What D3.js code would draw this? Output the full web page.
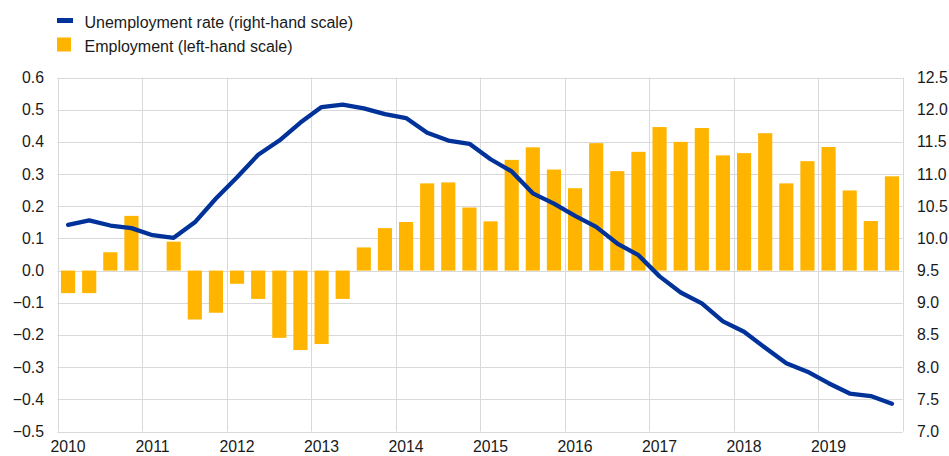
<!DOCTYPE html>
<html>
<head>
<meta charset="utf-8">
<script src="https://cdn.jsdelivr.net/npm/d3@7"></script>
<style>
  body { margin: 0; background: #fff; }
  svg text { font-family: "Liberation Sans", Arial, sans-serif; fill: #1a1a1a; }
</style>
</head>
<body>
<svg id="chart" width="949" height="456"></svg>
<script>
// quarters 2010Q1 - 2019Q4
const years = [2010, 2011, 2012, 2013, 2014, 2015, 2016, 2017, 2018, 2019];
const quarters = years.flatMap(y => [1, 2, 3, 4].map(q => y + "Q" + q));

// employment, quarter-on-quarter % change (left-hand scale)
const employment = [
    -0.07, -0.07, 0.057, 0.17,
    0.0, 0.09, -0.152, -0.131,
    -0.041, -0.088, -0.209, -0.247,
    -0.228, -0.088, 0.072, 0.132,
    0.151, 0.271, 0.274, 0.196,
    0.153, 0.344, 0.383, 0.314,
    0.256, 0.396, 0.309, 0.369,
    0.446, 0.40, 0.443, 0.358,
    0.365, 0.427, 0.271, 0.340,
    0.384, 0.249, 0.154, 0.293
];

// unemployment rate, % (right-hand scale)
const unemployment = [
    10.21, 10.28, 10.20, 10.16,
    10.05, 10.01, 10.25, 10.62,
    10.95, 11.30, 11.52, 11.80,
    12.04, 12.08, 12.02, 11.93,
    11.87, 11.64, 11.52, 11.47,
    11.23, 11.04, 10.70, 10.54,
    10.35, 10.18, 9.92, 9.74,
    9.41, 9.16, 8.99, 8.71,
    8.55, 8.30, 8.06, 7.93,
    7.75, 7.59, 7.55, 7.43
];

const leftTicks = [-0.5, -0.4, -0.3, -0.2, -0.1, 0.0, 0.1, 0.2, 0.3, 0.4, 0.5, 0.6];
const rightTicks = [7.0, 7.5, 8.0, 8.5, 9.0, 9.5, 10.0, 10.5, 11.0, 11.5, 12.0, 12.5];

const legendItems = [
    { label: "Unemployment rate (right-hand scale)", type: "line", color: "#003299" },
    { label: "Employment (left-hand scale)", type: "bar", color: "#ffb400" }
];

function drawChart() {
    const svg = d3.select("#chart");
    const plotLeft = 57.5, plotRight = 902.5, plotTop = 77.5, plotBottom = 431.5;

    const x = d3.scaleBand().domain(quarters).range([plotLeft, plotRight]).paddingInner(0.33).paddingOuter(0.165);
    const yL = d3.scaleLinear().domain([-0.5, 0.6]).range([plotBottom, plotTop]);
    const yR = d3.scaleLinear().domain([7.0, 12.5]).range([plotBottom, plotTop]);
    const yearX = d3.scaleLinear().domain([2010, 2020]).range([plotLeft, plotRight]);

    // grid
    const grid = svg.append("g").attr("stroke", "#d9d9d9").attr("stroke-width", 1);
    grid.selectAll("line.h").data(leftTicks).enter().append("line")
        .attr("x1", plotLeft).attr("x2", plotRight)
        .attr("y1", d => Math.round(yL(d)) + 0.5).attr("y2", d => Math.round(yL(d)) + 0.5);
    grid.selectAll("line.v").data(years.concat([2020])).enter().append("line")
        .attr("x1", d => Math.round(yearX(d)) + 0.5).attr("x2", d => Math.round(yearX(d)) + 0.5)
        .attr("y1", plotTop).attr("y2", plotBottom);

    // bars
    svg.append("g").selectAll("rect").data(employment).enter().append("rect")
        .attr("x", (d, i) => x(quarters[i]))
        .attr("width", x.bandwidth())
        .attr("y", d => yL(Math.max(0, d)))
        .attr("height", d => Math.abs(yL(d) - yL(0)))
        .attr("fill", "#ffb400");

    // unemployment line
    const line = d3.line()
        .x((d, i) => x(quarters[i]) + x.bandwidth() / 2)
        .y(d => yR(d));
    svg.append("path").datum(unemployment)
        .attr("d", line)
        .attr("fill", "none")
        .attr("stroke", "#003299")
        .attr("stroke-width", 4.3)
        .attr("stroke-linejoin", "round")
        .attr("stroke-linecap", "round");

    // left axis labels
    svg.append("g").selectAll("text").data(leftTicks).enter().append("text")
        .attr("x", 44).attr("y", d => yL(d) + 5.5)
        .attr("text-anchor", "end").attr("font-size", 15.8)
        .text(d => d3.format(".1f")(d));

    // right axis labels
    svg.append("g").selectAll("text").data(rightTicks).enter().append("text")
        .attr("x", 917).attr("y", d => yR(d) + 5.5)
        .attr("text-anchor", "start").attr("font-size", 15.8)
        .text(d => d3.format(".1f")(d));

    // year labels, centred on the first quarter of each year
    svg.append("g").selectAll("text").data(years).enter().append("text")
        .attr("x", d => x(d + "Q1") + x.bandwidth() / 2).attr("y", 452)
        .attr("text-anchor", "middle").attr("font-size", 15.8)
        .text(d => d);

    // legend
    const legend = svg.append("g");
    legendItems.forEach((item, i) => {
        const cy = 20.5 + i * 24;
        if (item.type === "line") {
            legend.append("rect").attr("x", 57).attr("y", cy - 2.5).attr("width", 16).attr("height", 5).attr("fill", item.color);
        } else {
            legend.append("rect").attr("x", 57).attr("y", cy - 7).attr("width", 14).attr("height", 14).attr("fill", item.color);
        }
        legend.append("text").attr("x", 84.5).attr("y", cy + 7.5).attr("font-size", 16).text(item.label);
    });
}
drawChart();
</script>
</body>
</html>
